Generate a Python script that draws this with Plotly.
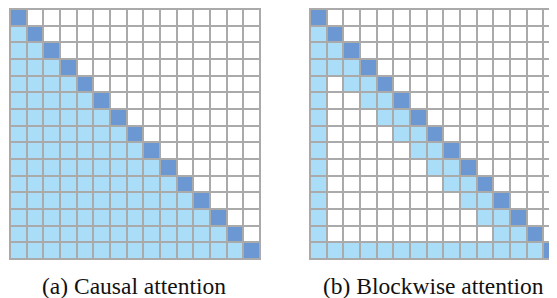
import plotly.graph_objects as go

N = 15
# cell states: 0 = masked (white), 1 = attended (light blue), 2 = diagonal (dark blue)
causal = [[2 if j == i else (1 if j < i else 0) for j in range(N)] for i in range(N)]
blockwise = []
for i in range(N):
    row = []
    for j in range(N):
        if j == i:
            row.append(2)
        elif j < i and (j == 0 or i == N - 1 or i - j <= 2):
            row.append(1)
        else:
            row.append(0)
    blockwise.append(row)

captions = ["(a) Causal attention", "(b) Blockwise attention"]

WHITE = "#ffffff"
LIGHT = "#a9ddf8"
DARK = "#6b97d3"
GRID = "#aaaaaa"
colorscale = [[0, WHITE], [0.333, WHITE], [0.334, LIGHT], [0.666, LIGHT], [0.667, DARK], [1, DARK]]

OFF = 8  # page body margin
W, H = 557 - OFF, 298 - OFF
cell = 250 / 15.0
pad = 1 / cell

def px_x(p):
    return (p - OFF) / W

def px_y(p):
    return (H - (p - OFF)) / H

fig = go.Figure()
fig.add_trace(go.Heatmap(z=causal, zmin=0, zmax=2, colorscale=colorscale, showscale=False,
                         xgap=2, ygap=2, xaxis="x", yaxis="y", hoverinfo="skip"))
fig.add_trace(go.Heatmap(z=blockwise, zmin=0, zmax=2, colorscale=colorscale, showscale=False,
                         xgap=2, ygap=2, xaxis="x2", yaxis="y2", hoverinfo="skip"))

ydom = [px_y(260), px_y(8)]
axis_common = dict(showgrid=False, zeroline=False, showticklabels=False, ticks="", showline=False)
right_px = 557 - 309
fig.update_layout(
    width=W, height=H,
    margin=dict(l=0, r=0, t=0, b=0),
    paper_bgcolor="white",
    plot_bgcolor=GRID,
    xaxis=dict(domain=[px_x(9), px_x(261)], range=[-0.5 - pad, N - 0.5 + pad], **axis_common),
    yaxis=dict(domain=ydom, range=[N - 0.5 + pad, -0.5 - pad], **axis_common),
    xaxis2=dict(domain=[px_x(309), 1], range=[-0.5 - pad, -0.5 - pad + right_px / cell],
                anchor="y2", **axis_common),
    yaxis2=dict(domain=ydom, range=[N - 0.5 + pad, -0.5 - pad], anchor="x2", **axis_common),
    showlegend=False,
)

for cx, text in zip([134, 433], captions):
    fig.add_annotation(x=px_x(cx), y=px_y(286), xref="paper", yref="paper",
                       text=text, showarrow=False, xanchor="center", yanchor="middle",
                       font=dict(family="Liberation Serif, Times New Roman, serif", size=23.5, color="#111111"))

fig.write_html("out.html")
